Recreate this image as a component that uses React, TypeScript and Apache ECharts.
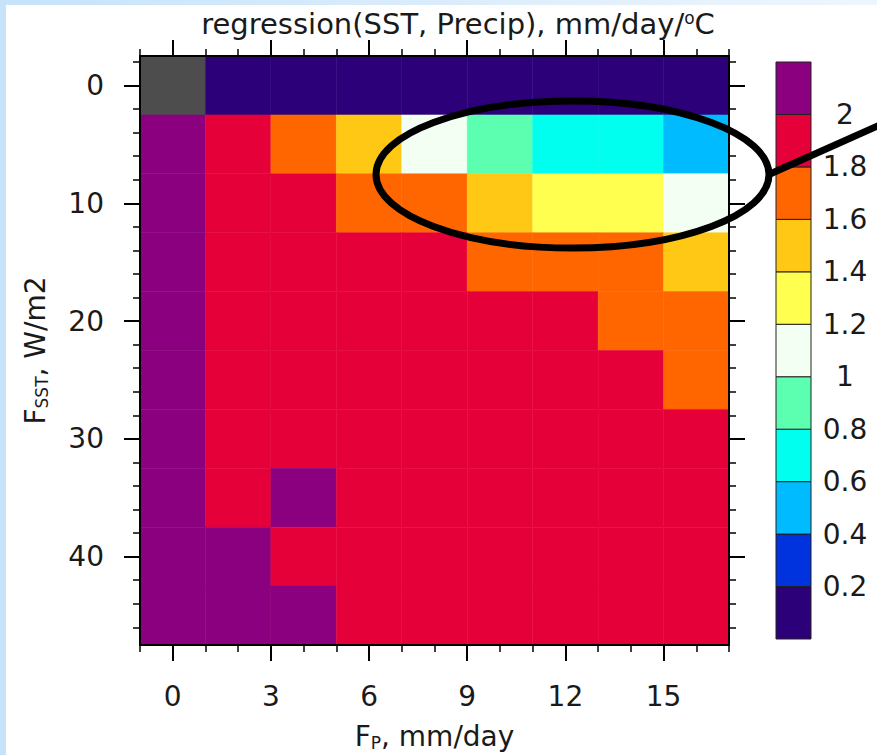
import React, { useEffect, useRef } from 'react';
import * as echarts from 'echarts';

// F_P centres (mm/day) and F_SST centres (W/m2)
const xCenters = [0, 2, 4, 6, 8, 10, 12, 14, 16];
const yCenters = [0, 5, 10, 15, 20, 25, 30, 35, 40, 45];

// regression(SST, Precip) values per row (one row per F_SST), null = undefined
const row0: (number | null)[] = [null, 0.1, 0.1, 0.1, 0.1, 0.1, 0.1, 0.1, 0.1];
const row5 = [2.1, 1.9, 1.7, 1.5, 1.1, 0.9, 0.7, 0.7, 0.5];
const row10 = [2.1, 1.9, 1.9, 1.7, 1.7, 1.5, 1.3, 1.3, 1.1];
const row15 = [2.1, 1.9, 1.9, 1.9, 1.9, 1.7, 1.7, 1.7, 1.5];
const row20 = [2.1, 1.9, 1.9, 1.9, 1.9, 1.9, 1.9, 1.7, 1.7];
const row25 = [2.1, 1.9, 1.9, 1.9, 1.9, 1.9, 1.9, 1.9, 1.7];
const row30 = [2.1, 1.9, 1.9, 1.9, 1.9, 1.9, 1.9, 1.9, 1.9];
const row35 = [2.1, 1.9, 2.1, 1.9, 1.9, 1.9, 1.9, 1.9, 1.9];
const row40 = [2.1, 2.1, 1.9, 1.9, 1.9, 1.9, 1.9, 1.9, 1.9];
const row45 = [2.1, 2.1, 2.1, 1.9, 1.9, 1.9, 1.9, 1.9, 1.9];
const rows = [row0, row5, row10, row15, row20, row25, row30, row35, row40, row45];

// colour levels
const levels = [0.2, 0.4, 0.6, 0.8, 1.0, 1.2, 1.4, 1.6, 1.8, 2.0];
const levelColors = [
  '#2B0079', '#0033DD', '#00BBFF', '#00FFEE', '#5CFFB0', '#F3FFF3',
  '#FFFF50', '#FFC815', '#FF6600', '#E6003A', '#8B007E',
];
const missingColor = '#4D4D4D';

// tick positions
const xMajorTicks = [0, 3, 6, 9, 12, 15];
const xMinorTicks = [-1, 1, 2, 4, 5, 7, 8, 10, 11, 13, 14, 16, 17];
const yMajorTicks = [0, 10, 20, 30, 40];
const yMinorTicks = [-2, 2, 4, 6, 8, 12, 14, 16, 18, 22, 24, 26, 28, 32, 34, 36, 38, 42, 44, 46];

const FONT = 'DejaVu Sans';
const TXT = '#1a1a1a';
const FS = 28;

function colorFor(v: number) {
  if (v == null || isNaN(v)) return missingColor;
  let i = 0;
  for (const l of levels) if (v >= l - 1e-9) i++;
  return levelColors[i];
}

export default function App() {
  const ref = useRef<HTMLDivElement>(null);
  useEffect(() => {
    document.body.style.margin = '0';
    const chart = echarts.init(ref.current!, undefined, { renderer: 'svg' });

    const cells: any[] = [];
    rows.forEach((r, j) => {
      r.forEach((v, i) => {
        cells.push([xCenters[i], yCenters[j], v == null ? NaN : v]);
      });
    });
    const cbData = levelColors.map((c, i) => [
      i === 0 ? 0 : levels[i - 1],
      i === levels.length ? 2.2 : levels[i],
      i,
    ]);

    const axisLine = { show: true, onZero: false, lineStyle: { color: '#000', width: 2 } };
    const noLine = { show: false, onZero: false };
    const majorTickStyle = { color: '#000', width: 2 };
    const minorTickStyle = { color: '#000', width: 1.5 };
    const nameRich = {
      a: { fontSize: FS, fontFamily: FONT, color: TXT, lineHeight: 30 },
      s: { fontSize: 17, fontFamily: FONT, color: TXT, verticalAlign: 'bottom', lineHeight: 18, padding: [10, 0, 0, 0] },
    };

    const baseX = { type: 'value', gridIndex: 0, min: -1, max: 17, z: 5, splitLine: { show: false } };
    const baseY = { type: 'value', gridIndex: 0, min: -2.5, max: 47.5, inverse: true, z: 5, splitLine: { show: false } };

    chart.setOption({
      animation: false,
      backgroundColor: '#ffffff',
      grid: [
        { left: 140, top: 56, width: 589, height: 589, containLabel: false, outerBoundsMode: 'none' },
        { left: 776, top: 62, width: 35, height: 577, containLabel: false, outerBoundsMode: 'none' },
      ],
      xAxis: [
        {
          ...baseX, position: 'bottom', axisLine,
          axisTick: { show: true, customValues: xMajorTicks, length: 16, lineStyle: majorTickStyle },
          axisLabel: { customValues: xMajorTicks, margin: 37, fontSize: FS, fontFamily: FONT, color: TXT },
          name: '{a|F}{s|P}{a|, mm/day}', nameLocation: 'middle', nameGap: 76,
          nameTextStyle: { rich: nameRich },
        },
        {
          ...baseX, position: 'bottom', axisLine: noLine,
          axisTick: { show: true, customValues: xMinorTicks, length: 7, lineStyle: minorTickStyle },
          axisLabel: { show: false },
        },
        {
          ...baseX, position: 'top', axisLine,
          axisTick: { show: true, customValues: xMajorTicks, length: 16, lineStyle: majorTickStyle },
          axisLabel: { show: false },
        },
        {
          ...baseX, position: 'top', axisLine: noLine,
          axisTick: { show: true, customValues: xMinorTicks, length: 7, lineStyle: minorTickStyle },
          axisLabel: { show: false },
        },
        { type: 'value', gridIndex: 1, min: 0, max: 1, show: false },
      ],
      yAxis: [
        {
          ...baseY, position: 'left', axisLine,
          axisTick: { show: true, customValues: yMajorTicks, length: 16, lineStyle: majorTickStyle },
          axisLabel: { customValues: yMajorTicks, margin: 36, fontSize: FS, fontFamily: FONT, color: TXT },
          name: '{a|F}{s|SST}{a|, W/m2}', nameLocation: 'middle', nameGap: 90,
          nameTextStyle: { rich: nameRich },
        },
        {
          ...baseY, position: 'left', axisLine: noLine,
          axisTick: { show: true, customValues: yMinorTicks, length: 7, lineStyle: minorTickStyle },
          axisLabel: { show: false },
        },
        {
          ...baseY, position: 'right', axisLine,
          axisTick: { show: true, customValues: yMajorTicks, length: 16, lineStyle: majorTickStyle },
          axisLabel: { show: false },
        },
        {
          ...baseY, position: 'right', axisLine: noLine,
          axisTick: { show: true, customValues: yMinorTicks, length: 7, lineStyle: minorTickStyle },
          axisLabel: { show: false },
        },
        {
          type: 'value', gridIndex: 1, min: 0, max: 2.2, position: 'right',
          axisLine: { show: false, onZero: false }, axisTick: { show: false }, splitLine: { show: false },
          axisLabel: {
            customValues: levels, margin: 34, align: 'center',
            fontSize: FS, fontFamily: FONT, color: TXT,
            formatter: (v: number) => String(Math.round(v * 10) / 10),
          },
        },
      ],
      series: [
        {
          type: 'custom',
          xAxisIndex: 0,
          yAxisIndex: 0,
          data: cells,
          encode: { x: 0, y: 1 },
          z: 1,
          renderItem: (params: any, api: any) => {
            const x = api.value(0);
            const y = api.value(1);
            const v = api.value(2);
            const p0 = api.coord([x - 1, y - 2.5]);
            const p1 = api.coord([x + 1, y + 2.5]);
            const c = colorFor(v);
            return {
              type: 'rect',
              shape: {
                x: Math.min(p0[0], p1[0]), y: Math.min(p0[1], p1[1]),
                width: Math.abs(p1[0] - p0[0]), height: Math.abs(p1[1] - p0[1]),
              },
              style: { fill: c, stroke: c, lineWidth: 0.5 },
            };
          },
        },
        {
          type: 'custom',
          xAxisIndex: 4,
          yAxisIndex: 4,
          data: cbData,
          encode: { y: [0, 1] },
          renderItem: (params: any, api: any) => {
            const lo = api.value(0);
            const hi = api.value(1);
            const idx = api.value(2);
            const p0 = api.coord([0, lo]);
            const p1 = api.coord([1, hi]);
            return {
              type: 'rect',
              shape: {
                x: Math.min(p0[0], p1[0]), y: Math.min(p0[1], p1[1]),
                width: Math.abs(p1[0] - p0[0]), height: Math.abs(p1[1] - p0[1]),
              },
              style: { fill: levelColors[idx], stroke: '#222', lineWidth: 1 },
            };
          },
        },
      ],
      graphic: [
        {
          type: 'rect', z: -100, silent: true,
          shape: { x: 0, y: 0, width: 6, height: 755 },
          style: { fill: '#C6E3FA' },
        },
        {
          type: 'rect', z: -100, silent: true,
          shape: { x: 0, y: 0, width: 877, height: 5 },
          style: {
            fill: new echarts.graphic.LinearGradient(0, 0, 1, 0, [
              { offset: 0, color: '#C6E3FA' },
              { offset: 1, color: '#EEF6FD' },
            ]),
          },
        },
        {
          type: 'text', z: 10, x: 458, y: 24,
          style: {
            text: 'regression(SST, Precip), mm/day/{sup|o}C',
            fontSize: 29, fontFamily: FONT, fill: TXT,
            align: 'center', verticalAlign: 'middle',
            rich: {
              sup: { fontSize: 17, fontFamily: FONT, fill: TXT, verticalAlign: 'top', lineHeight: 17, padding: [0, 0, 14, 0] },
            },
          },
        },
        {
          type: 'ellipse', z: 100, silent: true,
          shape: { cx: 572.5, cy: 174.5, rx: 196.5, ry: 73.5 },
          style: { fill: 'none', stroke: '#000', lineWidth: 7 },
        },
        {
          type: 'line', z: 100, silent: true,
          shape: { x1: 770, y1: 174, x2: 882, y2: 124 },
          style: { stroke: '#000', lineWidth: 7 },
        },
      ],
    });
    return () => chart.dispose();
  }, []);
  return <div ref={ref} style={{ width: 877, height: 755 }} />;
}
